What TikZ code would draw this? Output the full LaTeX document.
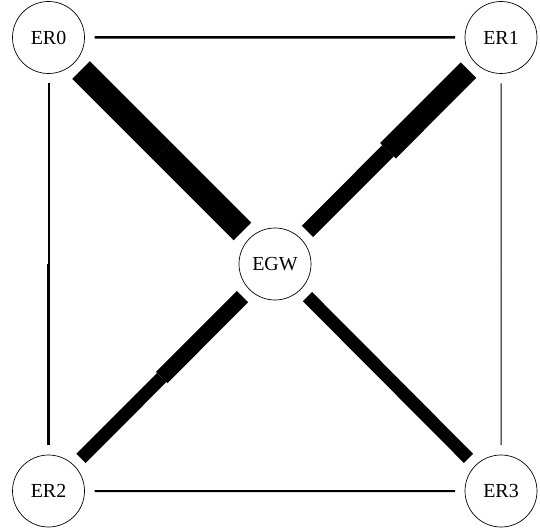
\documentclass[tikz,border=0pt]{standalone}
\usepackage{fontspec}
\setmainfont{Liberation Serif}
\usetikzlibrary{calc}
\begin{document}
\begin{tikzpicture}[x=1bp, y=-1bp, font=\fontsize{20}{24}\selectfont, line join=round]
	\tikzset{router/.style={draw, circle, minimum size=72bp, inner sep=0pt, line width=0.7bp, outer sep=10bp}}
	\useasboundingbox (0,0) rectangle (540,529);
	
	\node[router] (ER0) at (48.5,37.5) {ER0};
	\node[router] (ER1) at (501,37.5) {ER1};
	\node[router] (ER2) at (48.5,491) {ER2};
	\node[router] (ER3) at (501,491) {ER3};
	\node[router] (EGW) at (275,264) {EGW};
	
	% each link in two halves, one width per direction
	\foreach \a/\b/\wa/\wb in {ER0/ER1/2.5/2.5, ER2/ER3/2/2, ER0/ER2/2/3, ER1/ER3/1/1,
		ER0/EGW/25/25, ER1/EGW/22/16, ER2/EGW/13/16, ER3/EGW/13/13}{
		\draw[line width=\wa bp] (\a) -- ($(\a)!0.5!(\b)$);
		\draw[line width=\wb bp] ($(\a)!0.5!(\b)$) -- (\b);
	}
\end{tikzpicture}
\end{document}
